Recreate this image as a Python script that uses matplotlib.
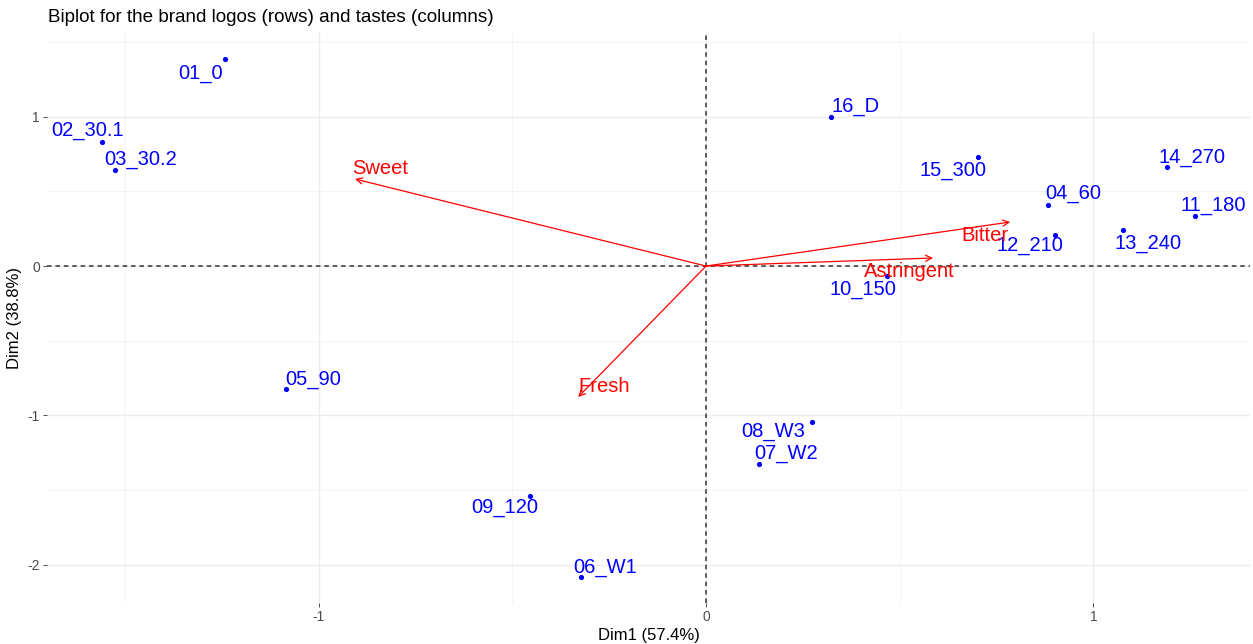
import numpy as np
import matplotlib.pyplot as plt

plt.rcParams['font.family'] = ['Liberation Sans', 'DejaVu Sans']

# row coordinates (brand logos)
rows = ['01_0', '02_30.1', '03_30.2', '04_60', '05_90', '06_W1', '07_W2', '08_W3',
        '09_120', '10_150', '11_180', '12_210', '13_240', '14_270', '15_300', '16_D']
row_x = [-1.241, -1.559, -1.525, 0.883, -1.084, -0.323, 0.137, 0.274,
         -0.454, 0.467, 1.262, 0.901, 1.076, 1.190, 0.702, 0.322]
row_y = [1.386, 0.831, 0.643, 0.409, -0.824, -2.083, -1.326, -1.045,
         -1.540, -0.067, 0.335, 0.208, 0.241, 0.663, 0.730, 0.998]

# column coordinates (tastes)
cols = ['Sweet', 'Bitter', 'Astringent', 'Fresh']
col_x = [-0.906, 0.785, 0.586, -0.330]
col_y = [0.583, 0.295, 0.054, -0.877]

# label offsets in pixels (dx right, dy up)
row_off = {'01_0': (-25, -14), '02_30.1': (-14, 11), '03_30.2': (25, 11),
           '04_60': (25, 11), '05_90': (27, 10), '06_W1': (24, 10),
           '07_W2': (27, 11), '08_W3': (-39, -9), '09_120': (-25, -12),
           '10_150': (-24, -13), '11_180': (18, 11), '12_210': (-25, -11),
           '13_240': (25, -13), '14_270': (25, 10), '15_300': (-25, -13),
           '16_D': (25, 11)}
col_off = {'Sweet': (25, 11), 'Bitter': (-25, -13),
           'Astringent': (-24, -14), 'Fresh': (26, 10)}

px = 0.72  # points per pixel at dpi 100

fig = plt.figure(figsize=(12.53, 6.44), dpi=100)
ax = fig.add_axes([47 / 1253, 1 - 603 / 644, 1203 / 1253, 570 / 644])

ax.set_xlim(-1.701, 1.404)
ax.set_ylim(-2.257, 1.561)

# grid
for v in [-1.5, -0.5, 0.5]:
    ax.axvline(v, color='#f4f4f4', lw=0.6, zorder=0)
for v in [-1.5, -0.5, 0.5, 1.5]:
    ax.axhline(v, color='#f4f4f4', lw=0.6, zorder=0)
for v in [-1, 0, 1]:
    ax.axvline(v, color='#ededed', lw=1.0, zorder=0)
for v in [-2, -1, 0, 1]:
    ax.axhline(v, color='#ededed', lw=1.0, zorder=0)

ax.axhline(0, color='#333333', lw=1.1, ls=(0, (3, 2.5)), zorder=1)
ax.axvline(0, color='#333333', lw=1.1, ls=(0, (3, 2.5)), zorder=1)

# rows
ax.scatter(row_x, row_y, s=14, color='blue', zorder=3, linewidths=0)
for name, x, y in zip(rows, row_x, row_y):
    dx, dy = row_off[name]
    ax.annotate(name, (x, y), xytext=(dx * px, dy * px), textcoords='offset points',
                ha='center', va='center', color='blue', fontsize=14.5, zorder=4)

# column arrows
for name, x, y in zip(cols, col_x, col_y):
    ax.annotate('', xy=(x, y), xytext=(0, 0),
                arrowprops=dict(arrowstyle='->', color='red', lw=0.9,
                                shrinkA=0, shrinkB=0, mutation_scale=11), zorder=2)
    dx, dy = col_off[name]
    ax.annotate(name, (x, y), xytext=(dx * px, dy * px), textcoords='offset points',
                ha='center', va='center', color='red', fontsize=14.5, zorder=4)

for s in ax.spines.values():
    s.set_visible(False)
ax.set_xticks([-1, 0, 1])
ax.set_xticklabels(['-1', '0', '1'])
ax.set_yticks([-2, -1, 0, 1])
ax.set_yticklabels(['-2', '-1', '0', '1'])
ax.tick_params(length=3, width=0.6, color='#333333', labelcolor='#4d4d4d',
               labelsize=10, pad=2)

ax.set_xlabel('Dim1 (57.4%)', fontsize=12, labelpad=3)
ax.set_ylabel('Dim2 (38.8%)', fontsize=12, labelpad=4)
fig.text(48 / 1253, 1 - 18 / 644, 'Biplot for the brand logos (rows) and tastes (columns)',
         fontsize=13.6, ha='left', va='center')

fig.savefig('out.png', dpi=100)
